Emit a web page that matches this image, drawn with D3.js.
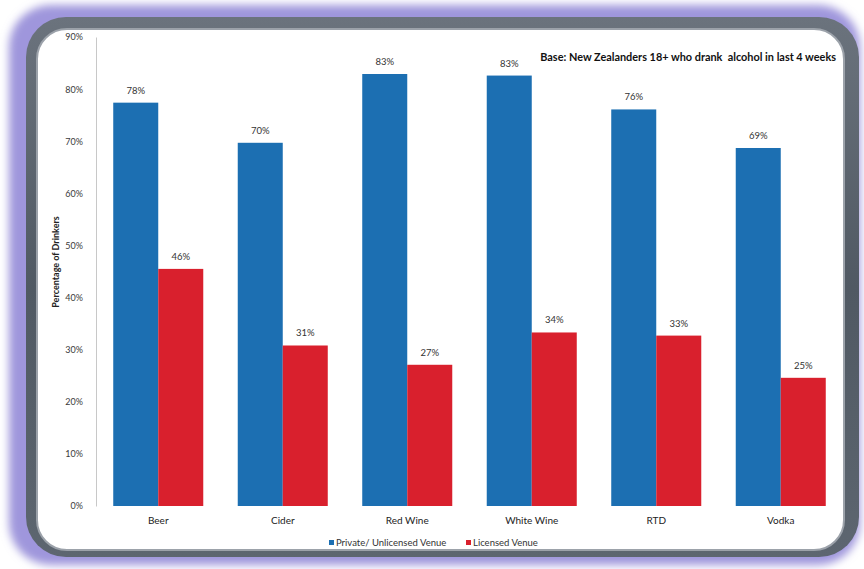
<!DOCTYPE html>
<html>
<head>
<meta charset="utf-8">
<script src="https://cdn.jsdelivr.net/npm/d3@7"></script>
<style>
  html, body { margin: 0; padding: 0; background: #ffffff; }
  svg { display: block; }
  text { font-family: Lato, "Open Sans", "DejaVu Sans", sans-serif; }
</style>
</head>
<body>
<svg id="chart" width="864" height="569"></svg>
<script>
// ---- data ----
const categories = ["Beer", "Cider", "Red Wine", "White Wine", "RTD", "Vodka"];
const seriesNames = ["Private/ Unlicensed Venue", "Licensed Venue"];
const privateValues = [77.4, 69.7, 82.9, 82.6, 76.1, 68.7];
const licensedValues = [45.5, 30.8, 27.1, 33.3, 32.7, 24.6];
const privateLabels = ["78%", "70%", "83%", "83%", "76%", "69%"];
const licensedLabels = ["46%", "31%", "27%", "34%", "33%", "25%"];
const yTicks = [0, 10, 20, 30, 40, 50, 60, 70, 80, 90];
const yTitle = "Percentage of Drinkers";
const note = "Base: New Zealanders 18+ who drank  alcohol in last 4 weeks";

const colors = ["#1c6fb2", "#d9202d"];

const svg = d3.select("#chart");
const defs = svg.append("defs");

// ---- frame ----
const glow = defs.append("filter").attr("id", "glow")
  .attr("x", "-5%").attr("y", "-5%").attr("width", "110%").attr("height", "110%");
glow.append("feGaussianBlur").attr("stdDeviation", 4);

const borderGrad = defs.append("linearGradient").attr("id", "borderGrad")
  .attr("x1", 0).attr("y1", 0).attr("x2", 0).attr("y2", 1);
borderGrad.append("stop").attr("offset", "0%").attr("stop-color", "#6b737d");
borderGrad.append("stop").attr("offset", "50%").attr("stop-color", "#505963");
borderGrad.append("stop").attr("offset", "100%").attr("stop-color", "#5d6670");

svg.append("rect")
  .attr("x", 9).attr("y", 5).attr("width", 851).attr("height", 560)
  .attr("rx", 42).attr("fill", "#9f96dc").attr("filter", "url(#glow)");
svg.append("rect")
  .attr("x", 26).attr("y", 17).attr("width", 833).attr("height", 540)
  .attr("rx", 40).attr("fill", "url(#borderGrad)");
svg.append("rect")
  .attr("x", 37).attr("y", 29).attr("width", 807).attr("height", 521)
  .attr("rx", 30).attr("fill", "#ffffff")
  .attr("stroke", "#9ca2aa").attr("stroke-width", 2);

// ---- scales ----
const x0 = d3.scaleBand().domain(categories).range([96, 843])
  .paddingInner(0.277).paddingOuter(0.1385);
const x1 = d3.scaleBand().domain(seriesNames).range([0, x0.bandwidth()]).padding(0);
const y = d3.scaleLinear().domain([0, 90]).range([506, 37]);

// ---- y axis ----
const yAxis = d3.axisLeft(y).tickValues(yTicks).tickSize(0).tickPadding(13)
  .tickFormat(d => d + "%");
const gy = svg.append("g").attr("transform", "translate(96,0)").call(yAxis);
gy.select(".domain").attr("stroke", "#c8c8c8").attr("stroke-width", 1);
gy.selectAll("text").attr("font-size", 9).attr("fill", "#3a3a3a")
  .attr("font-family", "Lato, sans-serif");

svg.append("text")
  .attr("transform", "translate(59,262) rotate(-90)")
  .attr("text-anchor", "middle")
  .attr("font-size", 9).attr("font-weight", "bold").attr("fill", "#222")
  .text(yTitle);

// ---- x axis labels ----
const xAxis = d3.axisBottom(x0).tickSize(0).tickPadding(11);
const gx = svg.append("g").attr("transform", "translate(0,506)").call(xAxis);
gx.select(".domain").remove();
gx.selectAll("text").attr("font-size", 10).attr("fill", "#222")
  .attr("font-family", "Lato, sans-serif");

// ---- bars ----
const rows = categories.map((c, i) => ({
  cat: c,
  vals: [
    { s: seriesNames[0], v: privateValues[i], lab: privateLabels[i], k: 0 },
    { s: seriesNames[1], v: licensedValues[i], lab: licensedLabels[i], k: 1 }
  ]
}));

const groups = svg.append("g").selectAll("g").data(rows).join("g")
  .attr("transform", d => `translate(${x0(d.cat)},0)`);

groups.selectAll("rect").data(d => d.vals).join("rect")
  .attr("x", d => x1(d.s))
  .attr("y", d => y(d.v))
  .attr("width", x1.bandwidth())
  .attr("height", d => y(0) - y(d.v))
  .attr("fill", d => colors[d.k]);

groups.selectAll("text").data(d => d.vals).join("text")
  .attr("x", d => x1(d.s) + x1.bandwidth() / 2)
  .attr("y", d => y(d.v) - 9)
  .attr("text-anchor", "middle")
  .attr("font-size", 9.5).attr("fill", "#333")
  .text(d => d.lab);

// ---- note ----
svg.append("text")
  .attr("x", 836).attr("y", 61)
  .attr("text-anchor", "end")
  .attr("font-size", 10.9).attr("font-weight", "bold").attr("fill", "#111")
  .style("white-space", "pre")
  .text(note);

// ---- legend ----
const legendX = [329, 466];
const lg = svg.append("g").selectAll("g").data(seriesNames).join("g")
  .attr("transform", (d, i) => `translate(${legendX[i]},545)`);
lg.append("rect").attr("x", 0).attr("y", -5).attr("width", 5).attr("height", 5)
  .attr("fill", (d, i) => colors[i]);
lg.append("text").attr("x", 7).attr("y", 0.5)
  .attr("font-size", 9.5).attr("fill", "#333").text(d => d);
</script>
</body>
</html>
